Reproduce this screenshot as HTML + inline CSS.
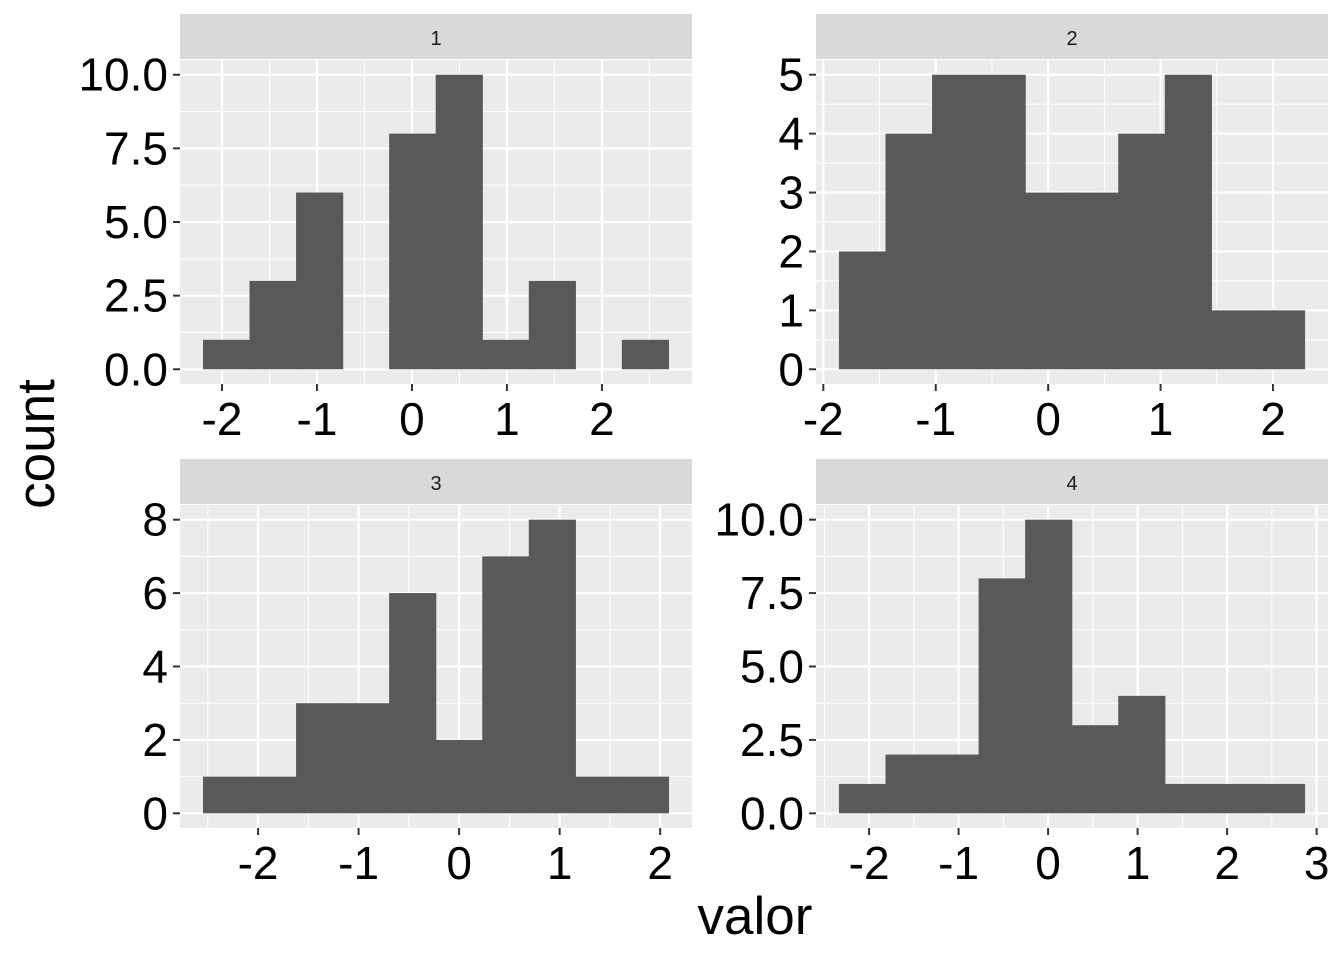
<!DOCTYPE html>
<html><head><meta charset="utf-8"><style>
body{margin:0;background:#fff;}
svg text{font-family:"Liberation Sans",sans-serif;}
</style></head><body>
<svg id="chart" width="1344" height="960" xmlns="http://www.w3.org/2000/svg">
<rect width="1344" height="960" fill="#fff"/>
<text x="40" y="444" font-size="53" text-anchor="middle" transform="rotate(-90 40 444)" dominant-baseline="middle">count</text>
<text x="755" y="934" font-size="53" text-anchor="middle">valor</text>
</svg>
<script>
const panelLabels = ["1","2","3","4"];
const binStarts = [-2.197, -1.858, -2.545, -2.333];
const binWidths = [0.49, 0.414, 0.463, 0.52];
const counts1 = [1,3,6,0,8,10,1,3,0,1];
const counts2 = [2,4,5,5,3,3,4,5,1,1];
const counts3 = [1,1,3,3,6,2,7,8,1,1];
const counts4 = [1,2,2,8,10,3,4,1,1,1];
const allCounts = [counts1, counts2, counts3, counts4];
const yTicks1 = [0,2.5,5,7.5,10];
const yTicks2 = [0,1,2,3,4,5];
const yTicks3 = [0,2,4,6,8];
const yTicks4 = [0,2.5,5,7.5,10];
const allYTicks = [yTicks1,yTicks2,yTicks3,yTicks4];
const yTickLabels1 = ["0.0","2.5","5.0","7.5","10.0"];
const yTickLabels2 = ["0","1","2","3","4","5"];
const yTickLabels3 = ["0","2","4","6","8"];
const yTickLabels4 = ["0.0","2.5","5.0","7.5","10.0"];
const allYLabels = [yTickLabels1,yTickLabels2,yTickLabels3,yTickLabels4];
const xTicks1 = [-2,-1,0,1,2];
const xTicks2 = [-2,-1,0,1,2];
const xTicks3 = [-2,-1,0,1,2];
const xTicks4 = [-2,-1,0,1,2,3];
const allXTicks = [xTicks1,xTicks2,xTicks3,xTicks4];

const svg = document.getElementById('chart');
const NS = 'http://www.w3.org/2000/svg';
function mk(tag, attrs, parent){const e=document.createElementNS(NS,tag);for(const k in attrs)e.setAttribute(k,attrs[k]);(parent||svg).appendChild(e);return e;}
const boxes = [[180,60,692,384],[816,60,1328,384],[180,505,692,828],[816,505,1328,828]];

for(let p=0;p<4;p++){
  const [x0,y0,x1,y1]=boxes[p];
  const c=allCounts[p], n=c.length;
  const dmin=binStarts[p], dmax=binStarts[p]+n*binWidths[p];
  const dr=dmax-dmin;
  const xs=v=>x0+(v-(dmin-0.05*dr))/(1.1*dr)*(x1-x0);
  const cmax=Math.max(...c);
  const ys=v=>y1-(v+0.05*cmax)/(1.1*cmax)*(y1-y0);
  const g=mk('g',{});
  
  
  const bg=mk('rect',{x:x0,y:y0,width:x1-x0,height:y1-y0,fill:'#EBEBEB'},g);
  
  
  const st=mk('rect',{x:x0,y:y0-46,width:x1-x0,height:45,fill:'#D9D9D9'},g);
  
  
  const stt=mk('text',{x:(x0+x1)/2,y:y0-15,'font-size':20,'text-anchor':'middle',fill:'#1A1A1A'},g);
  stt.textContent=panelLabels[p];
  
  
  const yt=allYTicks[p], xt=allXTicks[p];
  for(let i=0;i<yt.length;i++){const m=i<yt.length-1?(yt[i]+yt[i+1])/2:yt[i]+(yt[1]-yt[0])/2;const yy=ys(m);if(yy>y0)mk('line',{x1:x0,x2:x1,y1:yy,y2:yy,stroke:'#fff','stroke-width':1},g);}
  {const yy=ys(yt[0]-(yt[1]-yt[0])/2);if(yy<y1)mk('line',{x1:x0,x2:x1,y1:yy,y2:yy,stroke:'#fff','stroke-width':1},g);}
  const xstep=xt[1]-xt[0];
  for(let v=xt[0]-xstep/2; v<=xt[xt.length-1]+xstep; v+=xstep){const xx=xs(v);if(xx>x0&&xx<x1)mk('line',{x1:xx,x2:xx,y1:y0,y2:y1,stroke:'#fff','stroke-width':1},g);}
  yt.forEach(v=>{const yy=ys(v);mk('line',{x1:x0,x2:x1,y1:yy,y2:yy,stroke:'#fff','stroke-width':2.2},g);});
  xt.forEach(v=>{const xx=xs(v);mk('line',{x1:xx,x2:xx,y1:y0,y2:y1,stroke:'#fff','stroke-width':2.2},g);});
  c.forEach((v,i)=>{
    if(v<=0)return;
    const a=xs(dmin+i*binWidths[p]), b=xs(dmin+(i+1)*binWidths[p]);
    const r=mk('rect',{x:a-0.3,y:ys(v),width:b-a+0.6,height:ys(0)-ys(v),fill:'#595959'},g);
    
    
  });
  yt.forEach((v,i)=>{const yy=ys(v);
    mk('line',{x1:x0-7,x2:x0,y1:yy,y2:yy,stroke:'#333','stroke-width':2},g);
    const t=mk('text',{x:x0-12,y:yy+16,'font-size':46,'text-anchor':'end',fill:'#000'},g);
    t.textContent=allYLabels[p][i];
    
    });
  xt.forEach(v=>{const xx=xs(v);
    mk('line',{x1:xx,x2:xx,y1:y1,y2:y1+7,stroke:'#333','stroke-width':2},g);
    const t=mk('text',{x:xx,y:y1+51,'font-size':46,'text-anchor':'middle',fill:'#000'},g);
    t.textContent=String(v);
    
    });
}
</script>
</body></html>
